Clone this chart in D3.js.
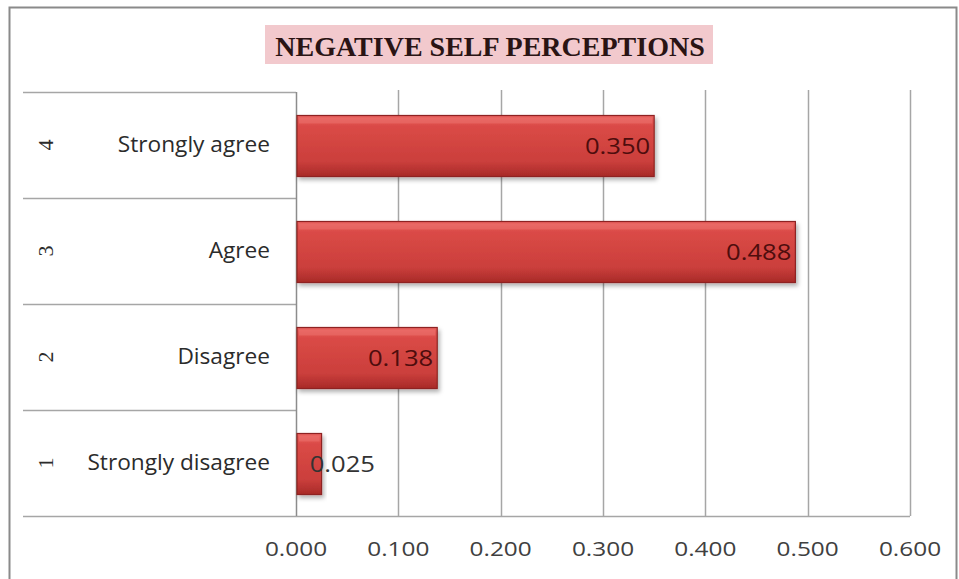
<!DOCTYPE html>
<html>
<head>
<meta charset="utf-8">
<script src="https://cdn.jsdelivr.net/npm/d3@7"></script>
<style>
body{margin:0;background:#fff;}
</style>
</head>
<body>
<div class="plot"></div>
<script>
var categories = ['Strongly disagree','Disagree','Agree','Strongly agree'];
var codes = ['1','2','3','4'];
var values = [0.025, 0.138, 0.488, 0.350];
var ticks = [0, 0.1, 0.2, 0.3, 0.4, 0.5, 0.6];
var title = 'NEGATIVE SELF PERCEPTIONS';

var W = 959, H = 579;
var m = {t:92, l:296, r:49, b:63},
    w = W - m.l - m.r,
    h = H - m.t - m.b;

var svg = d3.select('.plot').append('svg')
    .attr('width', W)
    .attr('height', H);

var defs = svg.append('defs');
var grad = defs.append('linearGradient')
    .attr('id','barGrad')
    .attr('x1',0).attr('y1',0).attr('x2',0).attr('y2',1);
grad.append('stop').attr('offset','0%').attr('stop-color','#e8625f');
grad.append('stop').attr('offset','18%').attr('stop-color','#da4a46');
grad.append('stop').attr('offset','75%').attr('stop-color','#cb3f3c');
grad.append('stop').attr('offset','100%').attr('stop-color','#a82a28');

var shadow = defs.append('filter').attr('id','shadow')
    .attr('x','-10%').attr('y','-10%').attr('width','130%').attr('height','140%');
shadow.append('feDropShadow')
    .attr('dx',2).attr('dy',3).attr('stdDeviation',2)
    .attr('flood-color','#000').attr('flood-opacity',0.3);

// outer frame
svg.append('rect')
    .attr('x',9.5).attr('y',7.5)
    .attr('width',W - 12).attr('height',H - 4)
    .attr('fill','none').attr('stroke','#8a8a8a').attr('stroke-width',2);

// title
var tg = svg.append('g');
tg.append('rect')
    .attr('x',265).attr('y',25).attr('width',448).attr('height',39)
    .attr('fill','#f2c9cd');
tg.append('text')
    .attr('x',490).attr('y',56)
    .attr('text-anchor','middle')
    .style('font-family','"Liberation Serif","Times New Roman",serif')
    .style('font-weight','bold')
    .style('font-size','28px')
    .style('fill','#2a1414')
    .text(title);

var x = d3.scaleLinear().domain([0, 0.6]).range([0, w]);
var y = d3.scaleBand().domain(categories.slice().reverse()).range([0, h]);

var plot = svg.append('g')
    .attr('transform','translate(' + m.l + ',' + m.t + ')');

// gridlines
plot.selectAll('.grid')
    .data(ticks.slice(1))
    .enter()
    .append('line')
    .attr('x1',function(d){return Math.round(x(d)) + 0.5})
    .attr('x2',function(d){return Math.round(x(d)) + 0.5})
    .attr('y1',-2).attr('y2',h)
    .attr('stroke','#a6a6a6').attr('stroke-width',1.5);

// category table lines
var bounds = categories.map(function(c){return y(c)}).concat([h]);
plot.selectAll('.row')
    .data(bounds)
    .enter()
    .append('line')
    .attr('x1', 23 - m.l)
    .attr('x2', function(d){return d === h ? w : 0})
    .attr('y1', function(d){return Math.round(d) + 0.5})
    .attr('y2', function(d){return Math.round(d) + 0.5})
    .attr('stroke','#a6a6a6').attr('stroke-width',1.5);

// axis line
plot.append('line')
    .attr('x1',0.5).attr('x2',0.5).attr('y1',0).attr('y2',h)
    .attr('stroke','#8c8c8c').attr('stroke-width',1.5);

var font = '"Open Sans",Lato,sans-serif';

// x tick labels (text is a little stretched in the original)
plot.selectAll('.tick-label')
    .data(ticks)
    .enter()
    .append('text')
    .attr('transform',function(d){return 'translate(' + x(d) + ',' + (h + 33) + ') scale(1.22,1)'})
    .attr('dy','0.35em')
    .attr('text-anchor','middle')
    .style('font-family',font)
    .style('font-size','20px')
    .style('fill','#404040')
    .text(function(d){return d3.format('.3f')(d)});

// category labels
var bh = 61;
plot.selectAll('.cat')
    .data(categories)
    .enter()
    .append('text')
    .attr('transform',function(d){return 'translate(-26,' + (y(d) + y.bandwidth()/2) + ') scale(1.08,1)'})
    .attr('dy','0.35em')
    .attr('text-anchor','end')
    .style('font-family',font)
    .style('font-size','21px')
    .style('fill','#2b2b2b')
    .text(function(d){return d});

plot.selectAll('.code')
    .data(codes)
    .enter()
    .append('text')
    .attr('transform',function(d,i){
        return 'translate(' + (45 - m.l) + ',' + (y(categories[i]) + y.bandwidth()/2) + ') rotate(-90)';
    })
    .attr('dy','0.35em')
    .attr('text-anchor','middle')
    .style('font-family','"Liberation Serif",serif')
    .style('font-size','22px')
    .style('fill','#2b2b2b')
    .text(function(d){return d});

// bars
plot.selectAll('.bar')
    .data(values)
    .enter()
    .append('rect')
    .attr('x',1)
    .attr('y',function(d,i){return y(categories[i]) + (y.bandwidth() - bh)/2 + 1})
    .attr('width',function(d){return x(d) - 1})
    .attr('height',bh)
    .attr('fill','url(#barGrad)')
    .attr('stroke','#8e2422')
    .attr('stroke-width',1.2)
    .attr('filter','url(#shadow)');

// bar highlights (bevel)
plot.selectAll('.hl')
    .data(values)
    .enter()
    .append('rect')
    .attr('x',3)
    .attr('y',function(d,i){return y(categories[i]) + (y.bandwidth() - bh)/2 + 3})
    .attr('width',function(d){return Math.max(0, x(d) - 5)})
    .attr('height',6)
    .attr('fill','#f07a76')
    .attr('opacity',0.45);

// value labels
plot.selectAll('.val')
    .data(values)
    .enter()
    .append('text')
    .attr('transform',function(d,i){
        return 'translate(' + Math.max(x(d) - 4, 79) + ',' + (y(categories[i]) + y.bandwidth()/2 + 2) + ') scale(1.22,1)';
    })
    .attr('dy','0.35em')
    .attr('text-anchor','end')
    .style('font-family',font)
    .style('font-size','21px')
    .style('fill',function(d){return x(d) > 80 ? '#4e0d0d' : '#333'})
    .text(function(d){return d3.format('.3f')(d)});
</script>
</body>
</html>
